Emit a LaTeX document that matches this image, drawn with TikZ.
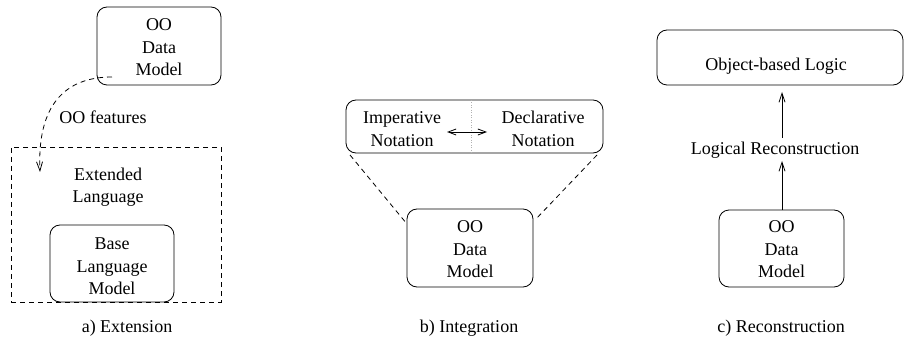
\documentclass[tikz,border=0pt]{standalone}
\usepackage{fontspec}
\setmainfont{Liberation Serif}
\usetikzlibrary{arrows.meta}
\tikzset{
  rbox/.style={draw, line width=0.8pt, rounded corners=10pt, inner sep=0pt},
  lbl/.style={align=center, inner sep=0pt, font=\fontsize{18}{22.5}\selectfont},
  dsh/.style={line width=0.8pt, dash pattern=on 5pt off 4pt},
  barb/.style={-{Straight Barb[length=9pt,width=6pt,line width=0.8pt]}},
  line/.style={line width=0.8pt}
}
\begin{document}
\begin{tikzpicture}[x=1pt,y=-1pt]
\useasboundingbox (0,0) rectangle (904,358);
% ---------- a) Extension ----------
\node[rbox, minimum width=124pt, minimum height=78pt] (ooa) at (159,46) {};
\node[lbl] (ooat) at (159,47.5) {OO\\Data\\Model};
\node[draw, dsh, minimum width=210pt, minimum height=155pt, inner sep=0pt] (ext) at (116,224.5) {};
\node[lbl] (extt) at (108,187) {Extended\\Language};
\node[rbox, minimum width=124pt, minimum height=77pt] (base) at (112,263.5) {};
\node[lbl] (baset) at (112,266.5) {Base\\Language\\Model};
\node[lbl] (feat) at (103,117) {OO features};
\coordinate (cs) at (112,77);
\coordinate (ce) at (40,172);
\draw[dsh, barb] (cs) .. controls (65,77) and (37,105) .. (ce);
\node[lbl] (capa) at (127,328) {a) Extension};
% ---------- b) Integration ----------
\node[rbox, minimum width=257pt, minimum height=53pt] (top) at (474.5,126.5) {};
\node[lbl, font=\fontsize{18}{23.4}\selectfont] (imp) at (402,129) {Imperative\\Notation};
\node[lbl, font=\fontsize{18}{23.4}\selectfont] (dec) at (543,129) {Declarative\\Notation};
\coordinate (dtop) at (471,100);
\coordinate (dbot) at (471,153);
\draw[line width=0.5pt, black!30, dotted] (dtop) -- (dbot);
\coordinate (al) at (447,132);
\coordinate (ar) at (487,132);
\draw[line, {Straight Barb[length=8pt,width=6pt,line width=0.8pt]}-{Straight Barb[length=8pt,width=6pt,line width=0.8pt]}] (al) -- (ar);
\node[rbox, minimum width=126pt, minimum height=78pt] (oob) at (470,248) {};
\node[lbl] (oobt) at (470,249.5) {OO\\Data\\Model};
\coordinate (l1) at (350,155);
\coordinate (l2) at (407,224);
\coordinate (r1) at (597,155);
\coordinate (r2) at (535,220);
\draw[dsh] (l1) -- (l2);
\draw[dsh] (r1) -- (r2);
\node[lbl] (capb) at (469,328) {b) Integration};
% ---------- c) Reconstruction ----------
\node[rbox, minimum width=246pt, minimum height=55pt] (obl) at (780,57.5) {};
\node[lbl] (oblt) at (776,66.5) {Object-based Logic};
\node[lbl] (lrec) at (775,150) {Logical Reconstruction};
\node[rbox, minimum width=125pt, minimum height=77pt] (ooc) at (781.5,248.5) {};
\node[lbl] (ooct) at (781.5,249.5) {OO\\Data\\Model};
\coordinate (a1s) at (782,138);
\coordinate (a1e) at (782,92);
\coordinate (a2e) at (782,161);
\draw[line, barb] (a1s) -- (a1e);
\draw[line, barb] (ooc.north -| a1s) -- (a2e);
\node[lbl] (capc) at (781,328) {c) Reconstruction};
\end{tikzpicture}
\end{document}
